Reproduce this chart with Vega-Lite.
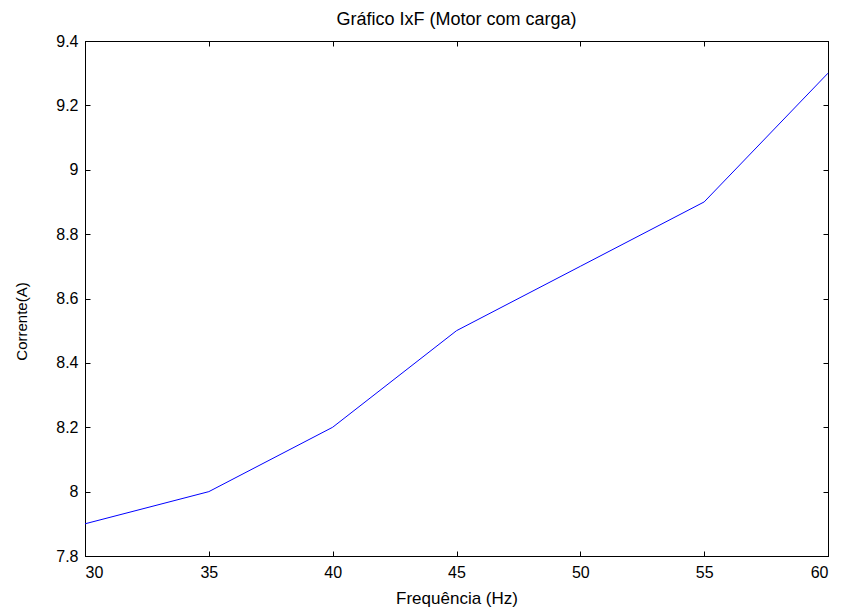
{
  "$schema": "https://vega.github.io/schema/vega-lite/v6.json",
  "autosize": {"type": "none"},
  "width": 743,
  "height": 515,
  "padding": {"left": 85, "top": 41, "right": 13, "bottom": 56},
  "background": "white",
  "title": {"text": "Gráfico IxF (Motor com carga)", "font": "Liberation Sans", "fontSize": 18, "fontWeight": "normal", "color": "black", "offset": 4, "anchor": "middle"},
  "config": {
    "view": {"stroke": "black", "strokeWidth": 1},
    "axis": {"grid": false, "domainColor": "black", "tickColor": "black", "tickSize": -5, "labelFont": "Liberation Sans", "labelFontSize": 16, "labelColor": "black", "titleFont": "Liberation Sans", "titleFontSize": 17, "titleFontWeight": "normal", "titleColor": "black"}
  },
  "data": {"values": [
    {"f": 30, "i": 7.9},
    {"f": 35, "i": 8.0},
    {"f": 40, "i": 8.2},
    {"f": 45, "i": 8.5},
    {"f": 50, "i": 8.7},
    {"f": 55, "i": 8.9},
    {"f": 60, "i": 9.3}
  ]},
  "layer": [
    {
      "mark": {"type": "line", "color": "#0000ff", "strokeWidth": 1},
      "encoding": {
        "x": {"field": "f", "type": "quantitative", "scale": {"domain": [30, 60], "nice": false, "zero": false}, "axis": {"title": "Frequência (Hz)", "values": [30, 35, 40, 45, 50, 55, 60], "labelPadding": 13, "titlePadding": 10}},
        "y": {"field": "i", "type": "quantitative", "scale": {"domain": [7.8, 9.4], "nice": false, "zero": false}, "axis": {"title": "Corrente(A)", "titleFontSize": 15, "values": [7.8, 8, 8.2, 8.4, 8.6, 8.8, 9, 9.2, 9.4], "labelPadding": 12, "titlePadding": 26, "titleY": 280, "labelExpr": "datum.value == 8 ? '8' : datum.value == 9 ? '9' : format(datum.value, '.1f')"}}
      }
    },
    {
      "mark": {"type": "line", "opacity": 0},
      "encoding": {
        "x": {"field": "f", "type": "quantitative", "axis": {"orient": "top", "title": null, "labels": false, "values": [30, 35, 40, 45, 50, 55, 60]}},
        "y": {"field": "i", "type": "quantitative", "axis": {"orient": "right", "title": null, "labels": false, "values": [7.8, 8, 8.2, 8.4, 8.6, 8.8, 9, 9.2, 9.4]}}
      }
    }
  ],
  "resolve": {"axis": {"x": "independent", "y": "independent"}}
}
